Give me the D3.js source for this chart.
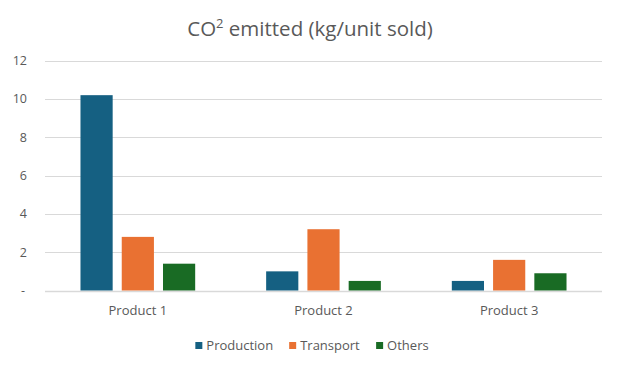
<!DOCTYPE html>
<html>
<head>
<meta charset="utf-8">
<script src="https://cdn.jsdelivr.net/npm/d3@7"></script>
<style>
  body { margin: 0; background: #fff; }
  svg { display: block; font-family: "Open Sans", sans-serif; }
</style>
</head>
<body>
<div id="chart"></div>
<script>
    const products = ['Product 1', 'Product 2', 'Product 3'];
    const seriesNames = ['Production', 'Transport', 'Others'];
    const production = [10.2, 1.0, 0.5];
    const transport = [2.8, 3.2, 1.6];
    const others = [1.4, 0.5, 0.9];
    const yTicks = [0, 2, 4, 6, 8, 10, 12];

    const width = 617, height = 366;
    const colors = d3.scaleOrdinal(seriesNames, ['#156082', '#e97132', '#196b24']);
    const textColor = '#595959';

    const rows = products.map((p, i) => ({
      product: p,
      values: [production[i], transport[i], others[i]]
    }));

    const svg = d3.select('#chart').append('svg')
      .attr('width', width)
      .attr('height', height);

    const x0 = d3.scaleBand()
      .domain(products)
      .range([45, 602]);

    const x1 = d3.scaleBand()
      .domain(seriesNames)
      .range([0, x0.bandwidth()])
      .paddingInner(0.22)
      .paddingOuter(0.86);

    const y = d3.scaleLinear()
      .domain([0, 12])
      .range([290.5, 60.7]);

    // title
    const title = svg.append('text')
      .attr('x', 310)
      .attr('y', 36)
      .attr('text-anchor', 'middle')
      .style('font-size', '20.5px')
      .style('fill', textColor);
    title.append('tspan').text('CO');
    title.append('tspan').text('2')
      .attr('dy', -8)
      .style('font-size', '13px');
    title.append('tspan').text(' emitted (kg/unit sold)')
      .attr('dy', 8);

    // gridlines
    svg.append('g')
      .selectAll('line')
      .data(yTicks)
      .join('line')
      .attr('x1', 45)
      .attr('x2', 602)
      .attr('y1', d => Math.round(y(d)) + 0.5)
      .attr('y2', d => Math.round(y(d)) + 0.5)
      .style('stroke', '#d9d9d9')
      .style('stroke-width', d => d === 0 ? 1.5 : 1);

    // y labels (accounting style, zero shown as dash)
    svg.append('g')
      .selectAll('text')
      .data(yTicks)
      .join('text')
      .attr('x', d => d === 0 ? 25 : 27)
      .attr('y', d => y(d))
      .attr('dy', '0.35em')
      .attr('text-anchor', 'end')
      .style('font-size', '12.5px')
      .style('fill', textColor)
      .text(d => d === 0 ? '-' : d);

    // bars
    const groups = svg.append('g')
      .selectAll('g')
      .data(rows)
      .join('g')
      .attr('transform', d => `translate(${x0(d.product)},0)`);

    groups.selectAll('rect')
      .data(d => d.values.map((v, i) => ({ key: seriesNames[i], value: v })))
      .join('rect')
      .attr('x', d => x1(d.key))
      .attr('width', x1.bandwidth())
      .attr('y', d => y(d.value))
      .attr('height', d => y(0) - y(d.value))
      .style('fill', d => colors(d.key));

    // category labels
    svg.append('g')
      .selectAll('text')
      .data(products)
      .join('text')
      .attr('x', d => x0(d) + x0.bandwidth() / 2)
      .attr('y', 315)
      .attr('text-anchor', 'middle')
      .style('font-size', '13px')
      .style('fill', textColor)
      .text(d => d);

    // legend, centred under the plot
    const legend = svg.append('g');
    const items = legend.selectAll('g')
      .data(seriesNames)
      .join('g');
    items.append('rect')
      .attr('width', 7)
      .attr('height', 7)
      .attr('y', 342)
      .style('fill', d => colors(d));
    items.append('text')
      .attr('x', 11)
      .attr('y', 350)
      .style('font-size', '13px')
      .style('fill', textColor)
      .text(d => d);

    let offset = 0;
    const widths = [];
    items.each(function () {
      widths.push(this.getBBox().width);
    });
    const total = d3.sum(widths) + 16 * (widths.length - 1);
    offset = 312 - total / 2;
    items.attr('transform', (d, i) => {
      const t = `translate(${offset},0)`;
      offset += widths[i] + 16;
      return t;
    });
</script>
</body>
</html>
